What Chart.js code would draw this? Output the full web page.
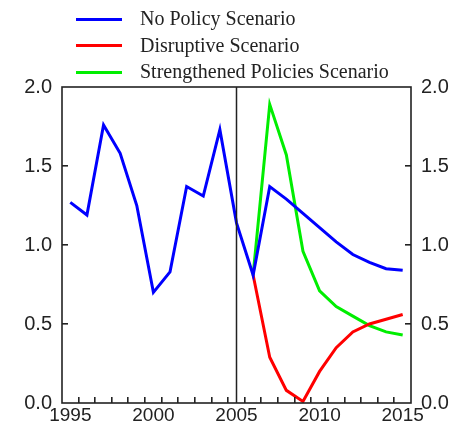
<!DOCTYPE html>
<html>
<head>
<meta charset="utf-8">
<script src="https://cdn.jsdelivr.net/npm/chart.js@4/dist/chart.umd.min.js"></script>
<style>
  html, body { margin: 0; padding: 0; background: #fff; }
  #wrap { position: relative; width: 455px; height: 425px; }
  #legend { position: absolute; left: 76px; top: 5px; font-family: "Liberation Serif", serif; font-size: 20px; color: #222; }
  .item { height: 26.5px; line-height: 26px; white-space: nowrap; }
  .swatch { display: inline-block; width: 46px; height: 3px; vertical-align: middle; margin-right: 18px; position: relative; top: -1px; }
</style>
</head>
<body>
<div id="wrap">
  <canvas id="chart" width="455" height="425"></canvas>
  <div id="legend"></div>
</div>
<script>
const years = ['1995','1996','1997','1998','1999','2000','2001','2002','2003','2004','2005',
               '2006','2007','2008','2009','2010','2011','2012','2013','2014','2015'];

const noPolicy = [1.27, 1.19, 1.76, 1.58, 1.25, 0.70, 0.83, 1.37, 1.31, 1.73, 1.14,
                  0.81, 1.37, 1.29, 1.20, 1.11, 1.02, 0.94, 0.89, 0.85, 0.84];
const disruptive = [null, null, null, null, null, null, null, null, null, null, null,
                    0.81, 0.29, 0.08, 0.01, 0.20, 0.35, 0.45, 0.50, 0.53, 0.56];
const strengthened = [null, null, null, null, null, null, null, null, null, null, null,
                      0.81, 1.89, 1.57, 0.96, 0.71, 0.61, 0.55, 0.49, 0.45, 0.43];

const seriesNames = ['No Policy Scenario', 'Disruptive Scenario', 'Strengthened Policies Scenario'];
const seriesColors = ['#0000ff', '#ff0000', '#00ee00'];
const yTicks = [0, 0.5, 1.0, 1.5, 2.0];
const markerYear = '2005';

// legend as html
const legend = document.getElementById('legend');
seriesNames.forEach((name, i) => {
  const row = document.createElement('div');
  row.className = 'item';
  row.innerHTML = '<span class="swatch" style="background:' + seriesColors[i] + '"></span>' + name;
  legend.appendChild(row);
});

// frame, inward tick marks and the 2005 divider
const framePlugin = {
  id: 'frame',
  afterDraw(chart) {
    const { ctx, chartArea: a, scales } = chart;
    const x = scales.x, y = scales.y;
    ctx.save();
    ctx.strokeStyle = '#222';
    ctx.lineWidth = 1.6;
    ctx.strokeRect(a.left, a.top, a.right - a.left, a.bottom - a.top);

    ctx.lineWidth = 1.5;
    ctx.strokeStyle = '#222';
    for (let i = 0; i < years.length - 1; i++) {
      const px = (x.getPixelForValue(i) + x.getPixelForValue(i + 1)) / 2;
      ctx.fillStyle = '#222';
      ctx.fillRect(Math.round(px) - 1, a.bottom - 6, 1.6, 6);
    }
    [0.5, 1.0, 1.5].forEach(v => {
      const py = Math.round(y.getPixelForValue(v));
      ctx.fillRect(a.left, py - 1, 6, 1.6);
      ctx.fillRect(a.right - 6, py - 1, 6, 1.6);
    });

    const vx = x.getPixelForValue(years.indexOf(markerYear));
    ctx.beginPath();
    ctx.moveTo(vx, a.top);
    ctx.lineTo(vx, a.bottom);
    ctx.stroke();
    ctx.restore();
  }
};

const yTickOpts = {
  padding: 10,
  color: '#222',
  font: { family: '"Liberation Sans", Arial, sans-serif', size: 20 },
  stepSize: 0.5,
  callback: v => v.toFixed(1)
};

new Chart(document.getElementById('chart').getContext('2d'), {
  type: 'line',
  data: {
    labels: years,
    datasets: [
      { label: seriesNames[0], data: noPolicy, borderColor: seriesColors[0] },
      { label: seriesNames[1], data: disruptive, borderColor: seriesColors[1] },
      { label: seriesNames[2], data: strengthened, borderColor: seriesColors[2] }
    ].map(d => Object.assign(d, { borderWidth: 3, pointRadius: 0, fill: false, tension: 0, spanGaps: false }))
  },
  options: {
    responsive: false,
    animation: false,
    layout: { padding: { top: 87, left: 0, right: 0, bottom: 0 } },
    plugins: { legend: { display: false }, tooltip: { enabled: false } },
    scales: {
      x: {
        type: 'category',
        offset: true,
        grid: { display: false, drawTicks: false },
        border: { display: false },
        ticks: {
          autoSkip: false,
          maxRotation: 0,
          padding: 1,
          color: '#222',
          font: { family: '"Liberation Sans Narrow", "Liberation Sans", sans-serif', size: 19 },
          callback: function (v, i) { return (+years[i]) % 5 === 0 ? years[i] : ''; }
        },
        afterFit: s => { s.height = 20; }
      },
      y: {
        position: 'left',
        min: 0, max: 2,
        grid: { display: false, drawTicks: false },
        border: { display: false },
        ticks: yTickOpts,
        afterFit: s => { s.width = 62; }
      },
      y2: {
        position: 'right',
        min: 0, max: 2,
        grid: { display: false, drawTicks: false },
        border: { display: false },
        ticks: yTickOpts,
        afterFit: s => { s.width = 44; }
      }
    }
  },
  plugins: [framePlugin]
});
</script>
</body>
</html>
